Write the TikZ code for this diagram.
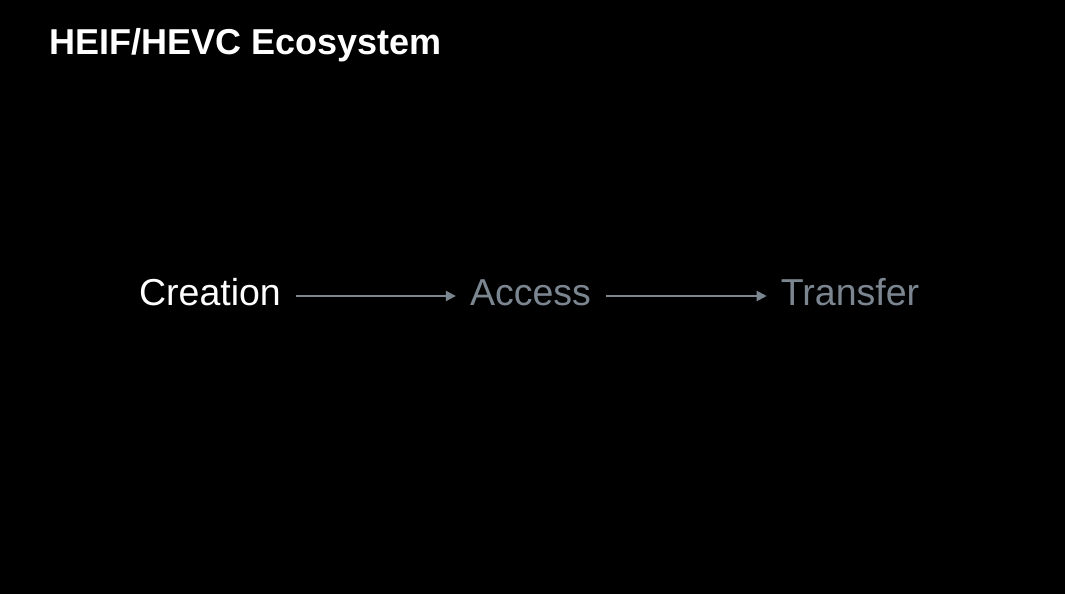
\documentclass[tikz,border=0pt]{standalone}
\usepackage{fontspec}
\setmainfont{Liberation Sans}
\usetikzlibrary{arrows.meta}
\definecolor{fg}{RGB}{255,255,255}
\definecolor{dim}{RGB}{124,134,145}
\begin{document}
\begin{tikzpicture}[x=1pt,y=1pt,
  lbl/.style={inner sep=0pt,anchor=base,font=\fontsize{37.5}{40}\selectfont},
  arr/.style={draw=dim,line width=2.2pt,-{Triangle[length=10pt,width=10pt]}}]
\fill[black] (0,0) rectangle (1065,594);
\useasboundingbox (0,0) rectangle (1065,594);
\node[inner sep=0pt,anchor=base west,text=fg,font=\fontsize{36}{40}\selectfont\bfseries] (title) at (49,539) {HEIF/HEVC Ecosystem};
\node[lbl,text=fg] (creation) at (210,288) {Creation};
\node[lbl,text=dim] (access) at (530.5,288) {Access};
\node[lbl,text=dim] (transfer) at (850,288) {Transfer};
\draw[arr] ([xshift=15pt,yshift=10pt]creation.base east) -- ([xshift=-14pt,yshift=10pt]access.base west);
\draw[arr] ([xshift=15pt,yshift=10pt]access.base east) -- ([xshift=-14pt,yshift=10pt]transfer.base west);
\end{tikzpicture}
\end{document}
